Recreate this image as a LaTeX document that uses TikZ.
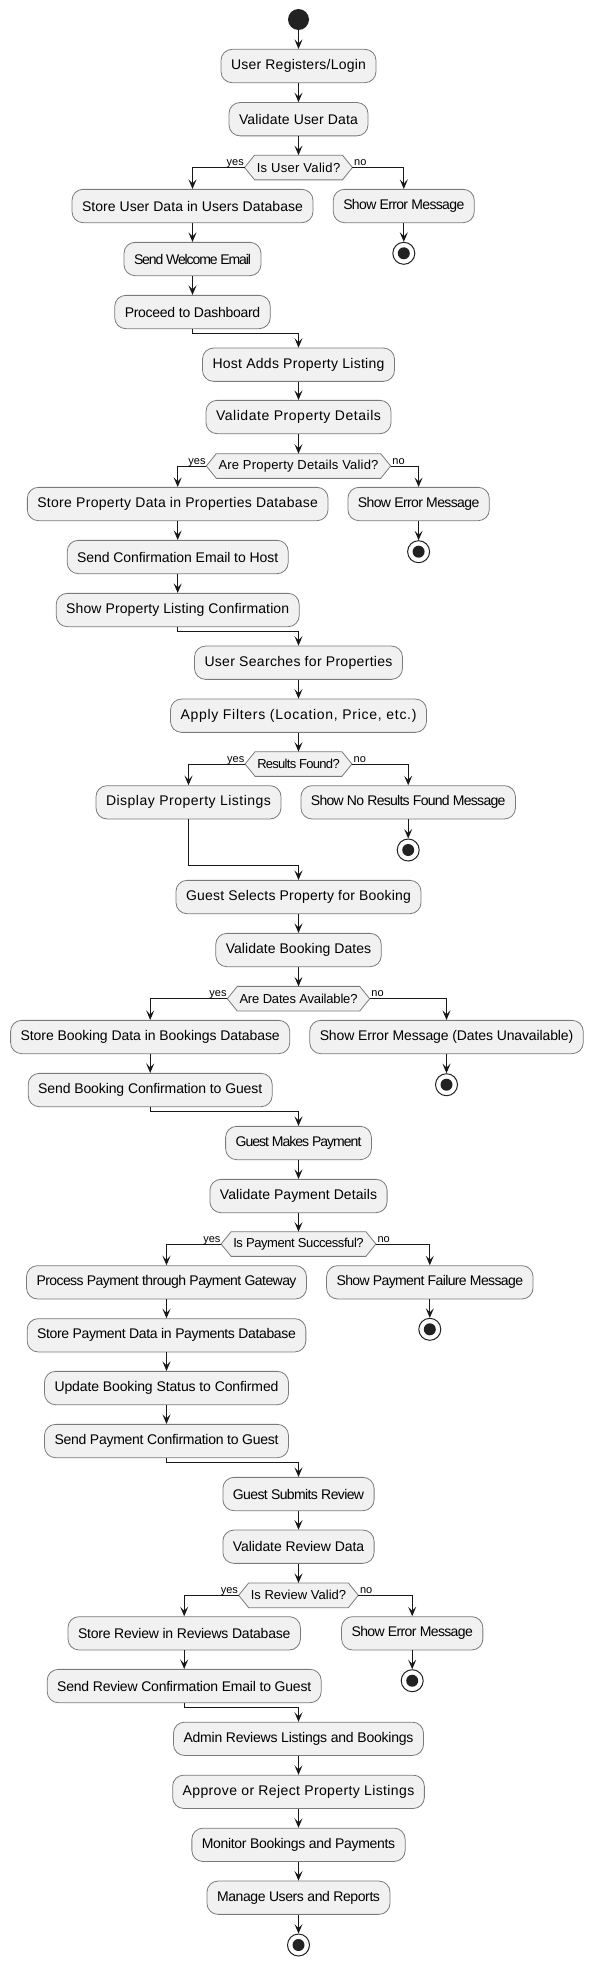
\documentclass[tikz,border=0pt]{standalone}
\usepackage{fontspec}
\setmainfont{Liberation Sans}
\usetikzlibrary{arrows.meta,backgrounds,calc}
\definecolor{boxfill}{HTML}{F1F1F1}
\definecolor{boxline}{HTML}{7A7A7A}
\definecolor{ink}{HTML}{181818}
\definecolor{dotc}{HTML}{222222}
\newcommand\boxfont{\fontsize{14}{17}\selectfont}
\newcommand\decfont{\fontsize{13}{15}\selectfont}
\newcommand\lblfont{\fontsize{11}{13}\selectfont}
\newlength\wzero
\newlength\wten
\newcommand\fitt[2]{%
  \settowidth\wzero{#2}%
  \settowidth\wten{\addfontfeatures{LetterSpace=10}#2}%
  \pgfmathsetmacro\lsval{10*(#1-\wzero)/(\wten-\wzero)}%
  \edef\lsdo{\noexpand\addfontfeatures{LetterSpace=\lsval}}%
  {\lsdo #2}}
\newcommand\hexdraw[1]{\begin{pgfonlayer}{background}\draw[hexline] (#1.west) -- ([xshift=10pt]#1.north west) -- ([xshift=-10pt]#1.north east) -- (#1.east) -- ([xshift=-10pt]#1.south east) -- ([xshift=10pt]#1.south west) -- cycle;\end{pgfonlayer}}
\begin{document}
\begin{tikzpicture}[x=1pt,y=-1pt,
  act/.style={rounded corners=11pt, draw=boxline, fill=boxfill, line width=0.8pt, minimum height=33.3pt, inner xsep=2pt, inner ysep=0pt, font=\boxfont},
  dec/.style={minimum height=24.3pt, inner sep=0pt, font=\decfont},
  hexline/.style={draw=boxline, fill=boxfill, line width=0.8pt},
  startdot/.style={circle, fill=dotc, minimum size=21pt, inner sep=0pt},
  enddot/.style={circle, draw=dotc, line width=1pt, fill=white, minimum size=22pt, inner sep=0pt, path picture={\fill[dotc] (path picture bounding box.center) circle (6pt);}},
  arr/.style={draw=ink, line width=1pt, -{Stealth[length=9.5pt,width=8pt,inset=4pt]}},
  lbl/.style={font=\lblfont, inner sep=0pt}]
\useasboundingbox (0,0) rectangle (596,1967);

% ---------- section 1
\node[startdot] (s) at (298.5,19.5) {};
\node[act, minimum width=155pt] (a1) at (298.5,66) {\fitt{135pt}{User Registers/Login}};
\node[act, minimum width=139pt] (a2) at (298.5,119.2) {\fitt{119pt}{Validate User Data}};
\node[dec, minimum width=107.5pt] (d1) at (298.5,167.5) {\fitt{83.5pt}{Is User Valid?}};
\hexdraw{d1}
\node[act, minimum width=241pt] (a3) at (192.5,206) {\fitt{221pt}{Store User Data in Users Database}};
\node[act, minimum width=141pt] (a4) at (403.8,206) {\fitt{121pt}{Show Error Message}};
\node[enddot] (e1) at (403.8,253.3) {};
\node[act, minimum width=137pt] (a5) at (192.5,259) {\fitt{117pt}{Send Welcome Email}};
\node[act, minimum width=155.5pt] (a6) at (192.5,312) {\fitt{135.5pt}{Proceed to Dashboard}};
\coordinate (m1) at (298.5,333.3);

% ---------- section 2
\node[act, minimum width=192pt] (a7) at (298.5,364.7) {\fitt{172pt}{Host Adds Property Listing}};
\node[act, minimum width=185pt] (a8) at (298.5,417) {\fitt{165pt}{Validate Property Details}};
\node[dec, minimum width=184pt] (d2) at (298.5,466) {\fitt{160pt}{Are Property Details Valid?}};
\hexdraw{d2}
\node[act, minimum width=300.7pt] (a9) at (177.7,504) {\fitt{280.7pt}{Store Property Data in Properties Database}};
\node[act, minimum width=141.4pt] (a10) at (418.6,504) {\fitt{121.4pt}{Show Error Message}};
\node[enddot] (e2) at (418.6,551.7) {};
\node[act, minimum width=221pt] (a11) at (177.7,557) {\fitt{201pt}{Send Confirmation Email to Host}};
\node[act, minimum width=243pt] (a12) at (177.7,610) {\fitt{223pt}{Show Property Listing Confirmation}};
\coordinate (m2) at (298.5,631);

% ---------- section 3
\node[act, minimum width=208pt] (a13) at (298.5,662.7) {\fitt{188pt}{User Searches for Properties}};
\node[act, minimum width=256pt] (a14) at (298.5,715.7) {\fitt{236pt}{Apply Filters (Location, Price, etc.)}};
\node[dec, minimum width=106.5pt] (d3) at (298.5,764) {\fitt{82.5pt}{Results Found?}};
\hexdraw{d3}
\node[act, minimum width=185pt] (a15) at (188.5,802.3) {\fitt{165pt}{Display Property Listings}};
\node[act, minimum width=214.5pt] (a16) at (408.2,802.3) {\fitt{194.5pt}{Show No Results Found Message}};
\node[enddot] (e3) at (408.2,850) {};
\coordinate (m3) at (298.5,865.7);

% ---------- section 4
\node[act, minimum width=245pt] (a17) at (298.5,897) {\fitt{225pt}{Guest Selects Property for Booking}};
\node[act, minimum width=165.5pt] (a18) at (298.5,950) {\fitt{145.5pt}{Validate Booking Dates}};
\node[dec, minimum width=142pt] (d4) at (298.5,998.7) {\fitt{118pt}{Are Dates Available?}};
\hexdraw{d4}
\node[act, minimum width=279.2pt] (a19) at (150.2,1037) {\fitt{259.2pt}{Store Booking Data in Bookings Database}};
\node[act, minimum width=273.5pt] (a20) at (446.5,1037) {\fitt{253.5pt}{Show Error Message (Dates Unavailable)}};
\node[enddot] (e4) at (446.5,1084.7) {};
\node[act, minimum width=244pt] (a21) at (150.2,1090) {\fitt{224pt}{Send Booking Confirmation to Guest}};
\coordinate (m4) at (298.5,1111);

% ---------- section 5
\node[act, minimum width=145.8pt] (a22) at (298.5,1143) {\fitt{125.8pt}{Guest Makes Payment}};
\node[act, minimum width=177.2pt] (a23) at (298.5,1196) {\fitt{157.2pt}{Validate Payment Details}};
\node[dec, minimum width=154.4pt] (d5) at (298.5,1244) {\fitt{130.4pt}{Is Payment Successful?}};
\hexdraw{d5}
\node[act, minimum width=280pt] (a24) at (166.5,1282.3) {\fitt{260pt}{Process Payment through Payment Gateway}};
\node[act, minimum width=206.5pt] (a25) at (429.8,1282.3) {\fitt{186.5pt}{Show Payment Failure Message}};
\node[enddot] (e5) at (429.8,1329.3) {};
\node[act, minimum width=278.7pt] (a26) at (166.5,1335.3) {\fitt{258.7pt}{Store Payment Data in Payments Database}};
\node[act, minimum width=244pt] (a27) at (166.5,1388) {\fitt{224pt}{Update Booking Status to Confirmed}};
\node[act, minimum width=244pt] (a28) at (166.5,1441) {\fitt{224pt}{Send Payment Confirmation to Guest}};
\coordinate (m5) at (298.5,1462.3);

% ---------- section 6
\node[act, minimum width=151.2pt] (a29) at (298.5,1494) {\fitt{131.2pt}{Guest Submits Review}};
\node[act, minimum width=151.2pt] (a30) at (298.5,1546.7) {\fitt{131.2pt}{Validate Review Data}};
\node[dec, minimum width=119.3pt] (d6) at (298.5,1595.3) {\fitt{95.3pt}{Is Review Valid?}};
\hexdraw{d6}
\node[act, minimum width=232.4pt] (a31) at (184.2,1633.3) {\fitt{212.4pt}{Store Review in Reviews Database}};
\node[act, minimum width=141.3pt] (a32) at (412.2,1633.3) {\fitt{121.3pt}{Show Error Message}};
\node[enddot] (e6) at (412.2,1680.7) {};
\node[act, minimum width=274pt] (a33) at (184.2,1686) {\fitt{254pt}{Send Review Confirmation Email to Guest}};
\coordinate (m6) at (298.5,1707.7);

% ---------- section 7
\node[act, minimum width=250pt] (a34) at (298.5,1738.8) {\fitt{230pt}{Admin Reviews Listings and Bookings}};
\node[act, minimum width=251.7pt] (a35) at (298.5,1791.8) {\fitt{231.7pt}{Approve or Reject Property Listings}};
\node[act, minimum width=213.3pt] (a36) at (298.5,1844.8) {\fitt{193.3pt}{Monitor Bookings and Payments}};
\node[act, minimum width=183pt] (a37) at (298.5,1897.7) {\fitt{163pt}{Manage Users and Reports}};
\node[enddot] (e7) at (298.5,1945) {};

% ---------- connectors
\draw[arr] (s) -- (a1);
\draw[arr] (a1) -- (a2);
\draw[arr] (a2) -- (d1);
\draw[arr] (d1.west) -| (a3.north);
\draw[arr] (d1.east) -| (a4.north);
\draw[arr] (a4) -- (e1);
\draw[arr] (a3) -- (a5);
\draw[arr] (a5) -- (a6);
\draw[arr] (a6.south) |- (m1) -- (a7.north);

\draw[arr] (a7) -- (a8);
\draw[arr] (a8) -- (d2);
\draw[arr] (d2.west) -| (a9.north);
\draw[arr] (d2.east) -| (a10.north);
\draw[arr] (a10) -- (e2);
\draw[arr] (a9) -- (a11);
\draw[arr] (a11) -- (a12);
\draw[arr] (a12.south) |- (m2) -- (a13.north);

\draw[arr] (a13) -- (a14);
\draw[arr] (a14) -- (d3);
\draw[arr] (d3.west) -| (a15.north);
\draw[arr] (d3.east) -| (a16.north);
\draw[arr] (a16) -- (e3);
\draw[arr] (a15.south) |- (m3) -- (a17.north);

\draw[arr] (a17) -- (a18);
\draw[arr] (a18) -- (d4);
\draw[arr] (d4.west) -| (a19.north);
\draw[arr] (d4.east) -| (a20.north);
\draw[arr] (a20) -- (e4);
\draw[arr] (a19) -- (a21);
\draw[arr] (a21.south) |- (m4) -- (a22.north);

\draw[arr] (a22) -- (a23);
\draw[arr] (a23) -- (d5);
\draw[arr] (d5.west) -| (a24.north);
\draw[arr] (d5.east) -| (a25.north);
\draw[arr] (a25) -- (e5);
\draw[arr] (a24) -- (a26);
\draw[arr] (a26) -- (a27);
\draw[arr] (a27) -- (a28);
\draw[arr] (a28.south) |- (m5) -- (a29.north);

\draw[arr] (a29) -- (a30);
\draw[arr] (a30) -- (d6);
\draw[arr] (d6.west) -| (a31.north);
\draw[arr] (d6.east) -| (a32.north);
\draw[arr] (a32) -- (e6);
\draw[arr] (a31) -- (a33);
\draw[arr] (a33.south) |- (m6) -- (a34.north);

\draw[arr] (a34) -- (a35);
\draw[arr] (a35) -- (a36);
\draw[arr] (a36) -- (a37);
\draw[arr] (a37) -- (e7);

% ---------- branch labels
\foreach \d in {d1,d2,d3,d4,d5,d6}{
  \node[lbl, anchor=base east] (\d y) at ($(\d.west)+(-0.5,-1.8)$) {yes};
  \node[lbl, anchor=base west] (\d n) at ($(\d.east)+(1.5,-1.8)$) {no};
}
\end{tikzpicture}
\end{document}
